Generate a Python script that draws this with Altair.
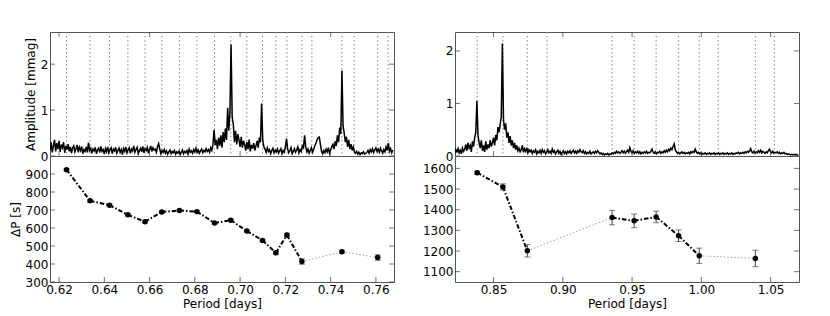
import altair as alt
import pandas as pd
import numpy as np

# ---------------- data: left star ----------------
left_modes = [0.6233, 0.6337, 0.6423, 0.6504, 0.6580, 0.6654, 0.6732, 0.6809, 0.6887, 0.6959,
              0.7030, 0.7099, 0.7158, 0.7207, 0.7273, 0.7317, 0.7450, 0.7504, 0.7608, 0.7654]
left_dp_period = [0.6233, 0.6337, 0.6423, 0.6504, 0.6580, 0.6654, 0.6732, 0.6809, 0.6887,
                  0.6959, 0.7030, 0.7099, 0.7158, 0.7207, 0.7273, 0.7450, 0.7608]
left_dp = [924, 751, 727, 673, 635, 689, 697, 691, 628, 643, 583, 531, 462, 561, 414, 468, 436]
left_dp_err = [5, 6, 6, 6, 6, 6, 6, 6, 6, 6, 6, 6, 8, 10, 15, 8, 15]
left_links = ["dashdot"] * 14 + ["dotted", "dotted"]
left_amp_start = 0.616
left_amp_step = 0.0005
left_amp = [
    0.12, 0.30, 0.08, 0.22, 0.35, 0.10, 0.28, 0.15, 0.33, 0.09,
    0.25, 0.18, 0.30, 0.07, 0.22, 0.14, 0.26, 0.10, 0.20, 0.06,
    0.18, 0.22, 0.09, 0.16, 0.24, 0.08, 0.19, 0.12, 0.21, 0.05,
    0.14, 0.10, 0.20, 0.08, 0.29, 0.12, 0.17, 0.06, 0.15, 0.11,
    0.19, 0.05, 0.13, 0.17, 0.08, 0.21, 0.10, 0.14, 0.04, 0.16,
    0.09, 0.20, 0.07, 0.13, 0.18, 0.05, 0.15, 0.11, 0.19, 0.06,
    0.12, 0.17, 0.08, 0.14, 0.03, 0.16, 0.10, 0.20, 0.07, 0.13,
    0.18, 0.06, 0.15, 0.11, 0.22, 0.08, 0.14, 0.19, 0.05, 0.12,
    0.17, 0.09, 0.21, 0.07, 0.16, 0.12, 0.19, 0.06, 0.14, 0.22,
    0.10, 0.18, 0.13, 0.15, 0.08, 0.20, 0.27, 0.15, 0.05, 0.12,
    0.08, 0.14, 0.06, 0.11, 0.04, 0.09, 0.13, 0.05, 0.10, 0.07,
    0.12, 0.04, 0.09, 0.06, 0.11, 0.03, 0.08, 0.13, 0.05, 0.10,
    0.07, 0.12, 0.04, 0.15, 0.08, 0.11, 0.06, 0.14, 0.09, 0.17,
    0.08, 0.13, 0.06, 0.11, 0.15, 0.07, 0.12, 0.09, 0.16, 0.10,
    0.14, 0.08, 0.18, 0.12, 0.25, 0.57, 0.24, 0.35, 0.15, 0.40,
    0.22, 0.45, 0.18, 0.52, 0.30, 0.60, 0.35, 1.05, 0.55, 0.95,
    2.43, 0.85, 0.69, 0.30, 0.55, 0.25, 0.48, 0.35, 0.20, 0.42,
    0.18, 0.33, 0.25, 0.12, 0.30, 0.15, 0.36, 0.10, 0.24, 0.16,
    0.28, 0.12, 0.22, 0.33, 0.18, 0.40, 0.30, 1.14, 0.35, 0.20,
    0.15, 0.08, 0.18, 0.10, 0.14, 0.05, 0.12, 0.17, 0.07, 0.13,
    0.09, 0.15, 0.06, 0.11, 0.16, 0.05, 0.12, 0.08, 0.20, 0.38,
    0.15, 0.07, 0.12, 0.18, 0.05, 0.10, 0.16, 0.08, 0.13, 0.20,
    0.07, 0.14, 0.10, 0.22, 0.18, 0.45, 0.20, 0.09, 0.15, 0.06,
    0.12, 0.18, 0.08, 0.14, 0.22, 0.28, 0.35, 0.40, 0.41, 0.25,
    0.10, 0.05, 0.12, 0.07, 0.15, 0.09, 0.18, 0.06, 0.13, 0.20,
    0.25, 0.15, 0.32, 0.22, 0.45, 0.30, 0.62, 0.48, 1.86, 0.65,
    0.50, 0.30, 0.42, 0.20, 0.35, 0.15, 0.26, 0.12, 0.20, 0.09,
    0.06, 0.10, 0.04, 0.08, 0.03, 0.07, 0.05, 0.09, 0.04, 0.06,
    0.08, 0.12, 0.06, 0.14, 0.09, 0.16, 0.07, 0.13, 0.18, 0.10,
    0.15, 0.08, 0.17, 0.11, 0.06, 0.14, 0.09, 0.20, 0.12, 0.28,
    0.10, 0.16, 0.07, 0.13,
]
left_top_xticks = [0.62, 0.66, 0.70, 0.74]

# ---------------- data: right star ----------------
right_modes = [0.8382, 0.8568, 0.8744, 0.8886, 0.9356, 0.9515, 0.9674, 0.9836, 0.9985,
               1.0122, 1.0390, 1.0527]
right_dp_period = [0.8382, 0.8568, 0.8744, 0.9356, 0.9515, 0.9674, 0.9836, 0.9985, 1.0390]
right_dp = [1579, 1510, 1201, 1362, 1346, 1365, 1274, 1177, 1164]
right_dp_err = [7, 15, 30, 35, 33, 28, 28, 37, 40]
right_links = ["dashdot", "dashdot", "dotted", "dashdot", "dashdot", "dashdot", "dashdot", "dotted"]
right_amp_start = 0.822
right_amp_step = 0.0008
right_amp = [
    0.05, 0.12, 0.08, 0.14, 0.06, 0.11, 0.04, 0.15, 0.09, 0.13,
    0.22, 0.10, 0.25, 0.15, 0.20, 0.08, 0.28, 0.18, 0.35, 0.45,
    1.05, 0.40, 0.25, 0.15, 0.30, 0.10, 0.20, 0.08, 0.28, 0.12,
    0.22, 0.15, 0.30, 0.18, 0.25, 0.35, 0.20, 0.40, 0.30, 0.55,
    0.45, 0.60, 0.75, 2.14, 0.70, 0.50, 0.62, 0.35, 0.45, 0.25,
    0.38, 0.20, 0.30, 0.15, 0.25, 0.12, 0.20, 0.10, 0.15, 0.08,
    0.12, 0.20, 0.07, 0.14, 0.09, 0.16, 0.06, 0.12, 0.08, 0.11,
    0.05, 0.10, 0.07, 0.12, 0.04, 0.09, 0.06, 0.11, 0.05, 0.12,
    0.07, 0.10, 0.04, 0.08, 0.12, 0.06, 0.09, 0.05, 0.13, 0.07,
    0.10, 0.04, 0.08, 0.11, 0.05, 0.09, 0.03, 0.07, 0.10, 0.05,
    0.08, 0.04, 0.09, 0.06, 0.10, 0.05, 0.08, 0.11, 0.06, 0.09,
    0.05, 0.10, 0.07, 0.12, 0.08, 0.06, 0.10, 0.05, 0.08, 0.04,
    0.07, 0.05, 0.09, 0.04, 0.06, 0.08, 0.05, 0.09, 0.06, 0.10,
    0.07, 0.04, 0.06, 0.03, 0.05, 0.02, 0.04, 0.03, 0.05, 0.02,
    0.04, 0.03, 0.06, 0.04, 0.07, 0.05, 0.09, 0.06, 0.08, 0.05,
    0.07, 0.10, 0.06, 0.09, 0.05, 0.08, 0.11, 0.07, 0.16, 0.09,
    0.06, 0.10, 0.05, 0.08, 0.06, 0.09, 0.05, 0.08, 0.04, 0.07,
    0.05, 0.08, 0.06, 0.09, 0.05, 0.07, 0.06, 0.09, 0.13, 0.07,
    0.05, 0.08, 0.04, 0.07, 0.06, 0.09, 0.05, 0.08, 0.06, 0.10,
    0.07, 0.11, 0.08, 0.13, 0.10, 0.15, 0.12, 0.18, 0.23, 0.12,
    0.08, 0.05, 0.07, 0.04, 0.06, 0.08, 0.05, 0.07, 0.04, 0.06,
    0.05, 0.07, 0.04, 0.08, 0.06, 0.09, 0.07, 0.13, 0.08, 0.05,
    0.07, 0.04, 0.06, 0.03, 0.05, 0.04, 0.06, 0.03, 0.05, 0.04,
    0.06, 0.03, 0.05, 0.04, 0.06, 0.03, 0.05, 0.04, 0.06, 0.03,
    0.05, 0.04, 0.06, 0.03, 0.05, 0.04, 0.06, 0.03, 0.05, 0.04,
    0.06, 0.03, 0.05, 0.04, 0.06, 0.05, 0.07, 0.04, 0.06, 0.05,
    0.07, 0.05, 0.08, 0.06, 0.09, 0.07, 0.10, 0.14, 0.08, 0.06,
    0.09, 0.05, 0.08, 0.06, 0.10, 0.07, 0.11, 0.06, 0.09, 0.07,
    0.05, 0.08, 0.06, 0.10, 0.13, 0.08, 0.06, 0.09, 0.05, 0.07,
    0.06, 0.08, 0.05, 0.07, 0.04, 0.06, 0.05, 0.07, 0.04, 0.05,
    0.03, 0.04, 0.03, 0.02, 0.03, 0.02, 0.03, 0.02, 0.03, 0.02, 0.02,
]
right_top_xticks = [0.85, 0.90, 0.95, 1.00, 1.05]

FONT = "DejaVu Sans"
W = 344
H_TOP = 124
H_BOT = 126
TICK = "#333333"


def tick_layers(xfield, yfield, xticks, yticks, height, top_ticks=True):
    xdf = pd.DataFrame({"tx": xticks})
    ydf = pd.DataFrame({"ty": yticks})
    out = [
        alt.Chart(xdf).mark_tick(orient="vertical", size=5, thickness=1, color=TICK).encode(
            x=xfield("tx:Q"), y=alt.value(height - 2.5)),
        alt.Chart(ydf).mark_tick(orient="horizontal", size=5, thickness=1, color=TICK).encode(
            y=yfield("ty:Q"), x=alt.value(2.5)),
        alt.Chart(ydf).mark_tick(orient="horizontal", size=5, thickness=1, color=TICK).encode(
            y=yfield("ty:Q"), x=alt.value(W - 2.5)),
    ]
    if top_ticks:
        out.append(alt.Chart(xdf).mark_tick(orient="vertical", size=5, thickness=1, color=TICK).encode(
            x=xfield("tx:Q"), y=alt.value(2.5)))
    return out


def panel(modes, dp_period, dp, dp_err, links, amp_start, amp_step, amp, top_xticks,
          xdom, xticks, ydom_top, yticks_top, ydom_bot, yticks_bot,
          title_top, title_bot):
    xs = alt.Scale(domain=xdom, nice=False, zero=False)
    ys_top = alt.Scale(domain=ydom_top, nice=False, zero=False)
    ys_bot = alt.Scale(domain=ydom_bot, nice=False, zero=False)

    amp_df = pd.DataFrame({"P": amp_start + amp_step * np.arange(len(amp)), "A": amp})
    mode_df = pd.DataFrame({"P": modes})

    y_top_axis = alt.Axis(values=yticks_top, format="d", title=title_top) if title_top \
        else alt.Axis(values=yticks_top, format="d", title=None)

    def xt(field):
        return alt.X(field, scale=xs, axis=None)

    def yt(field):
        return alt.Y(field, scale=ys_top, axis=y_top_axis)

    rules = alt.Chart(mode_df).mark_rule(color="#8a8a8a", strokeWidth=1, strokeDash=[1.5, 2.5]).encode(
        x=xt("P:Q")
    )
    line = alt.Chart(amp_df).mark_line(color="black", strokeWidth=1.5, clip=True).encode(
        x=xt("P:Q"), y=yt("A:Q"),
    )
    top = alt.layer(rules, line, *tick_layers(xt, yt, top_xticks, yticks_top, H_TOP)).properties(
        width=W, height=H_TOP)

    dp_df = pd.DataFrame({"P": dp_period, "dP": dp,
                          "lo": [v - e for v, e in zip(dp, dp_err)],
                          "hi": [v + e for v, e in zip(dp, dp_err)]})
    seg_df = pd.DataFrame({
        "P": dp_period[:-1], "P2": dp_period[1:],
        "dP": dp[:-1], "dP2": dp[1:], "style": links,
    })
    y_bot_axis = alt.Axis(values=yticks_bot, format="d", title=title_bot) if title_bot \
        else alt.Axis(values=yticks_bot, format="d", title=None)
    x_axis = alt.Axis(values=xticks, format=".2f", title="Period [days]", labelFlush=False)

    def xb(field):
        return alt.X(field, scale=xs, axis=x_axis)

    def yb(field):
        return alt.Y(field, scale=ys_bot, axis=y_bot_axis)

    dotted = alt.Chart(seg_df).transform_filter("datum.style == 'dotted'").mark_rule(
        color="#a0a0a0", strokeWidth=1, strokeDash=[1.5, 2]).encode(
        x=xb("P:Q"), x2="P2:Q", y=yb("dP:Q"), y2="dP2:Q")
    dashdot = alt.Chart(seg_df).transform_filter("datum.style == 'dashdot'").mark_rule(
        color="black", strokeWidth=2, strokeDash=[4.5, 2, 1.5, 2]).encode(
        x=xb("P:Q"), x2="P2:Q", y=yb("dP:Q"), y2="dP2:Q")
    ebar = alt.Chart(dp_df).mark_rule(color="#444", strokeWidth=1).encode(
        x=xb("P:Q"), y=yb("lo:Q"), y2="hi:Q")
    cap_lo = alt.Chart(dp_df).mark_tick(color="#444", orient="horizontal", size=6, thickness=1).encode(
        x=xb("P:Q"), y=yb("lo:Q"))
    cap_hi = alt.Chart(dp_df).mark_tick(color="#444", orient="horizontal", size=6, thickness=1).encode(
        x=xb("P:Q"), y=yb("hi:Q"))
    pts = alt.Chart(dp_df).mark_circle(color="black", size=30, opacity=1).encode(
        x=xb("P:Q"), y=yb("dP:Q"))
    bottom = alt.layer(dotted, dashdot, ebar, cap_lo, cap_hi, pts,
                       *tick_layers(xb, yb, xticks, yticks_bot, H_BOT, top_ticks=False)).properties(
        width=W, height=H_BOT)

    return alt.vconcat(top, bottom, spacing=0, bounds="flush")


left = panel(left_modes, left_dp_period, left_dp, left_dp_err, left_links,
             left_amp_start, left_amp_step, left_amp, left_top_xticks,
             [0.616, 0.768], [0.62, 0.64, 0.66, 0.68, 0.70, 0.72, 0.74, 0.76],
             [0, 2.7], [0, 1, 2], [300, 1000], [300, 400, 500, 600, 700, 800, 900],
             "Amplitude [mmag]", "ΔP [s]")
right = panel(right_modes, right_dp_period, right_dp, right_dp_err, right_links,
              right_amp_start, right_amp_step, right_amp, right_top_xticks,
              [0.8222, 1.0705], [0.85, 0.90, 0.95, 1.00, 1.05],
              [0, 2.36], [0, 1, 2], [1050, 1660], [1100, 1200, 1300, 1400, 1500, 1600],
              None, None)

chart = alt.hconcat(left, right, spacing=26).properties(
    padding={"left": 0, "top": 23, "right": 5, "bottom": 2}
).configure_view(
    stroke="#555", strokeWidth=1
).configure_axis(
    labelFont=FONT, titleFont=FONT, labelFontSize=12, titleFontSize=12,
    titleFontWeight="normal", labelColor="black", titleColor="black",
    grid=False, domain=False, ticks=False, tickSize=0, labelPadding=2, titlePadding=3,
)

chart.save("out.html", embed_options={"renderer": "svg", "actions": False})
